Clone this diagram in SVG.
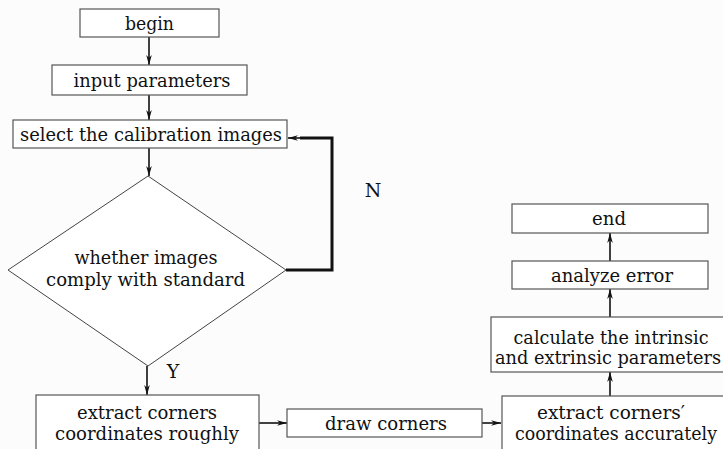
<svg xmlns="http://www.w3.org/2000/svg" width="723" height="449" viewBox="0 0 723 449">
<style>
.box{fill:#fff;stroke:#555;stroke-width:1.2}
.t{font-family:"DejaVu Serif","Liberation Serif",serif;font-size:19px;fill:#111;text-anchor:middle}
.c{fill:none;stroke:#111;stroke-width:1.6}
.thick{fill:none;stroke:#111;stroke-width:3}
</style>
<defs>
<marker id="ah" viewBox="0 0 10 10" refX="10" refY="5" markerWidth="10" markerHeight="8" markerUnits="userSpaceOnUse" orient="auto" preserveAspectRatio="none">
<path d="M0,1.5 L10,5 L0,8.5 L3,5 Z" fill="#111"/>
</marker>
</defs>
<rect width="723" height="449" fill="#fcfcfc"/>
<g id="connectors">
<line class="c" x1="149" y1="37" x2="149" y2="65" marker-end="url(#ah)"/>
<line class="c" x1="149" y1="95" x2="149" y2="120" marker-end="url(#ah)"/>
<line class="c" x1="149" y1="148" x2="149" y2="176" marker-end="url(#ah)"/>
<polyline class="thick" points="286,270 332,270 332,138 300,138"/>
<line class="c" x1="302" y1="138" x2="288" y2="138" marker-end="url(#ah)"/>
<line class="c" x1="147" y1="366" x2="147" y2="395" marker-end="url(#ah)"/>
<line class="c" x1="259" y1="423" x2="287" y2="423" marker-end="url(#ah)"/>
<line class="c" x1="482" y1="423" x2="501" y2="423" marker-end="url(#ah)"/>
<line class="c" x1="610" y1="396" x2="610" y2="372" marker-end="url(#ah)"/>
<line class="c" x1="610" y1="317" x2="610" y2="289" marker-end="url(#ah)"/>
<line class="c" x1="610" y1="261" x2="610" y2="233" marker-end="url(#ah)"/>
<text class="t" x="373" y="197">N</text>
<text class="t" x="173" y="378">Y</text>
</g>
<g id="begin">
<rect class="box" x="80" y="9" width="139" height="28"/>
<text class="t" x="149.5" y="30" textLength="49" lengthAdjust="spacingAndGlyphs">begin</text>
</g>
<g id="input">
<rect class="box" x="52" y="65" width="195" height="30"/>
<text class="t" x="152" y="87" textLength="157" lengthAdjust="spacingAndGlyphs">input parameters</text>
</g>
<g id="select">
<rect class="box" x="13" y="120" width="274" height="28"/>
<text class="t" x="151" y="141" textLength="262" lengthAdjust="spacingAndGlyphs">select the calibration images</text>
</g>
<g id="decision">
<polygon class="box" points="148,176 286,270 148,366 8,270" style="stroke:#444;stroke-width:1"/>
<text class="t" x="146" y="264" textLength="143" lengthAdjust="spacingAndGlyphs">whether images</text>
<text class="t" x="145.5" y="286" textLength="199" lengthAdjust="spacingAndGlyphs">comply with standard</text>
</g>
<g id="rough">
<rect class="box" x="36" y="395" width="223" height="60"/>
<text class="t" x="147" y="419" textLength="140" lengthAdjust="spacingAndGlyphs">extract corners</text>
<text class="t" x="147" y="440" textLength="184" lengthAdjust="spacingAndGlyphs">coordinates roughly</text>
</g>
<g id="draw">
<rect class="box" x="287" y="409" width="195" height="28"/>
<text class="t" x="386" y="430" textLength="122" lengthAdjust="spacingAndGlyphs">draw corners</text>
</g>
<g id="accurate">
<rect class="box" x="502" y="396" width="224" height="60"/>
<text class="t" x="611" y="419" textLength="148" lengthAdjust="spacingAndGlyphs">extract corners′</text>
<text class="t" x="616" y="440" textLength="202" lengthAdjust="spacingAndGlyphs">coordinates accurately</text>
</g>
<g id="calculate">
<rect class="box" x="491" y="317" width="235" height="55"/>
<text class="t" x="611" y="344" textLength="195" lengthAdjust="spacingAndGlyphs">calculate the intrinsic</text>
<text class="t" x="608" y="364" textLength="226" lengthAdjust="spacingAndGlyphs">and extrinsic parameters</text>
</g>
<g id="analyze">
<rect class="box" x="512" y="261" width="196" height="28"/>
<text class="t" x="612" y="282" textLength="122" lengthAdjust="spacingAndGlyphs">analyze error</text>
</g>
<g id="end">
<rect class="box" x="512" y="204" width="196" height="29"/>
<text class="t" x="609" y="225" textLength="34" lengthAdjust="spacingAndGlyphs">end</text>
</g>
</svg>
